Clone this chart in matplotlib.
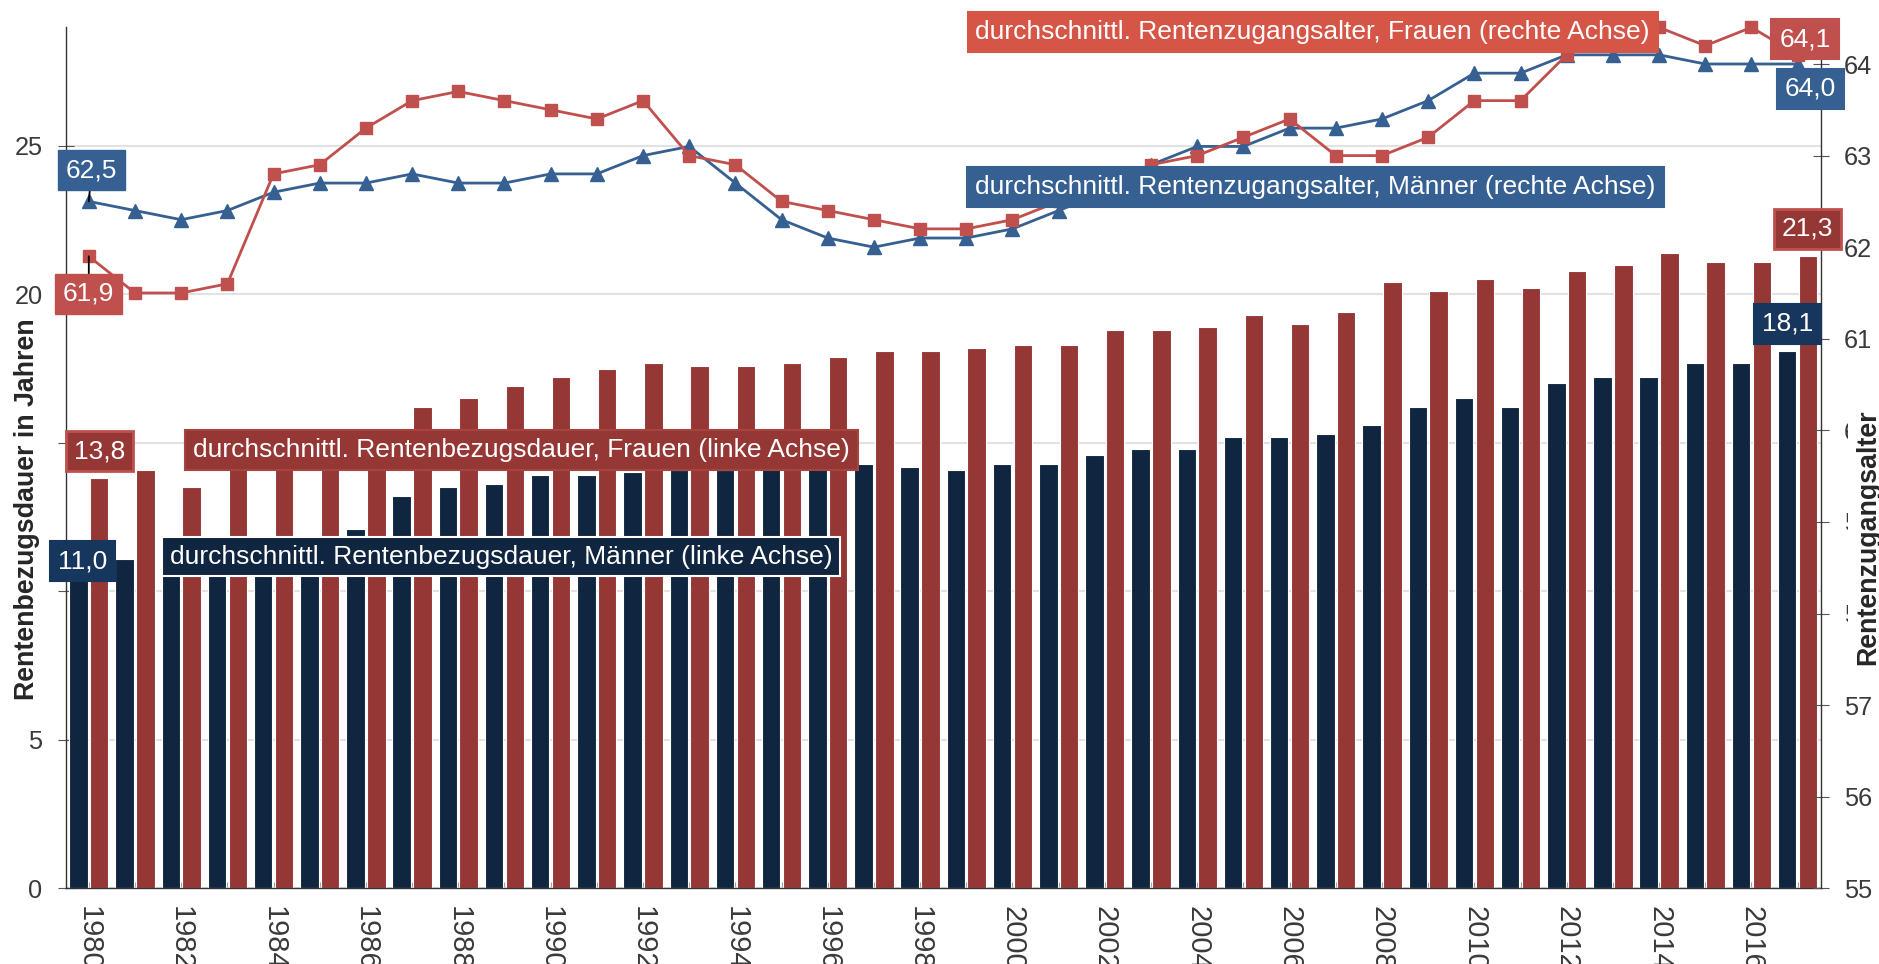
import matplotlib
matplotlib.use('Agg')
import matplotlib.pyplot as plt
import numpy as np

plt.rcParams['font.family'] = ['Liberation Sans', 'DejaVu Sans']

# data
years = list(range(1980, 2018))

# durchschnittl. Rentenbezugsdauer in Jahren (linke Achse)
dauer_maenner = [11.0, 11.1, 11.2, 11.3, 11.5, 11.7, 12.1, 13.2, 13.5, 13.6,
                 13.9, 13.9, 14.0, 14.1, 14.1, 14.2, 14.2, 14.3, 14.2, 14.1,
                 14.3, 14.3, 14.6, 14.8, 14.8, 15.2, 15.2, 15.3, 15.6, 16.2,
                 16.5, 16.2, 17.0, 17.2, 17.2, 17.7, 17.7, 18.1]
dauer_frauen = [13.8, 14.1, 13.5, 14.3, 14.6, 15.0, 15.3, 16.2, 16.5, 16.9,
                17.2, 17.5, 17.7, 17.6, 17.6, 17.7, 17.9, 18.1, 18.1, 18.2,
                18.3, 18.3, 18.8, 18.8, 18.9, 19.3, 19.0, 19.4, 20.4, 20.1,
                20.5, 20.2, 20.8, 21.0, 21.4, 21.1, 21.1, 21.3]

# durchschnittl. Rentenzugangsalter (rechte Achse)
alter_maenner = [62.5, 62.4, 62.3, 62.4, 62.6, 62.7, 62.7, 62.8, 62.7, 62.7,
                 62.8, 62.8, 63.0, 63.1, 62.7, 62.3, 62.1, 62.0, 62.1, 62.1,
                 62.2, 62.4, 62.6, 62.9, 63.1, 63.1, 63.3, 63.3, 63.4, 63.6,
                 63.9, 63.9, 64.1, 64.1, 64.1, 64.0, 64.0, 64.0]
alter_frauen = [61.9, 61.5, 61.5, 61.6, 62.8, 62.9, 63.3, 63.6, 63.7, 63.6,
                63.5, 63.4, 63.6, 63.0, 62.9, 62.5, 62.4, 62.3, 62.2, 62.2,
                62.3, 62.5, 62.7, 62.9, 63.0, 63.2, 63.4, 63.0, 63.0, 63.2,
                63.6, 63.6, 64.1, 64.3, 64.4, 64.2, 64.4, 64.1]

left_ticks = [0, 5, 10, 15, 20, 25]
right_ticks = list(range(55, 65))

NAVY = '#10253f'
NAVY_LABEL = '#17365d'
DARKRED = '#953735'
BLUE = '#366092'
RED = '#c0504d'
RED_LABEL = '#d55647'
TXT = '#3a3a3a'


def fmt(v):
    return ('%.1f' % v).replace('.', ',')


fig = plt.figure(figsize=(18.79, 9.64), dpi=100)
fig.patch.set_facecolor('white')
ax = fig.add_axes([0.03497, 0.07853, 0.93402, 0.89346])

x = np.arange(len(years))
ax.bar(x - 0.225, dauer_maenner, width=0.4, color=NAVY, edgecolor='white', linewidth=0.8)
ax.bar(x + 0.225, dauer_frauen, width=0.4, color=DARKRED, edgecolor='white', linewidth=0.8)
ax.set_xlim(-0.5, len(years) - 0.5)
ax.set_ylim(0, 29)
ax.set_yticks(left_ticks)
ax.grid(axis='y', color='#e2e2e2', lw=1.5)
ax.set_axisbelow(True)
ax.set_xticks(x)
ax.set_xticklabels([str(y) if y % 2 == 0 else '' for y in years], rotation=270,
                   fontsize=21, color=TXT, va='top', ha='center')
ax.tick_params(axis='x', direction='in', length=4, color='#999999', pad=13)
ax.tick_params(axis='y', direction='inout', length=11.5, color='#555555',
               labelsize=18.3, labelcolor=TXT, pad=11)
for s in ['top', 'right']:
    ax.spines[s].set_visible(False)
for s in ['left', 'bottom']:
    ax.spines[s].set_color('#333333')
    ax.spines[s].set_linewidth(1)

ax.set_ylabel('Rentenbezugsdauer in Jahren', fontsize=19.3, fontweight='bold', color='#262626',
              bbox=dict(boxstyle='square,pad=0.25', fc='white', ec='none'))
ax.yaxis.set_label_coords(-0.0218, 0.4404)
ax.yaxis.label.set_verticalalignment('center')

ax2 = ax.twinx()
ax2.set_ylim(55, 64.404)
ax2.set_yticks(right_ticks)
ax2.tick_params(axis='y', direction='inout', length=11.5, color='#555555',
                labelsize=18.3, labelcolor=TXT, pad=11)
for s in ['top', 'left', 'bottom']:
    ax2.spines[s].set_visible(False)
ax2.spines['right'].set_color('#333333')
ax2.spines['right'].set_linewidth(1)

ax2.plot(x, alter_maenner, color=BLUE, marker='^', ms=9.5, lw=2, clip_on=False, zorder=3)
ax2.plot(x, alter_frauen, color=RED, marker='s', ms=8.5, lw=2, clip_on=False, zorder=4)

ax2.set_ylabel('Rentenzugangsalter', fontsize=19.3, fontweight='bold', color='#262626',
               bbox=dict(boxstyle='square,pad=0.25', fc='white', ec='none'))
ax2.yaxis.set_label_coords(1.0269, 0.4073)
ax2.yaxis.label.set_verticalalignment('center')


def box(s, xx, yy, fc, ec=None, lw=1.5, trans=None):
    ax2.text(xx, yy, s, ha='center', va='center', color='white', fontsize=19,
             zorder=10, clip_on=False, transform=trans or ax2.transData,
             bbox=dict(boxstyle='square,pad=0.3', fc=fc, ec=ec or fc, lw=lw))


# series labels
box('durchschnittl. Rentenzugangsalter, Frauen (rechte Achse)', 26.5, 64.35, RED_LABEL)
box('durchschnittl. Rentenzugangsalter, Männer (rechte Achse)', 26.56, 62.66, BLUE)
box('durchschnittl. Rentenbezugsdauer, Frauen (linke Achse)', 9.37, 14.77, DARKRED,
    ec='#a84440', trans=ax.transData)
box('durchschnittl. Rentenbezugsdauer, Männer (linke Achse)', 8.93, 11.17, NAVY,
    ec='white', trans=ax.transData)

# value labels
lead = dict(arrowstyle='-', color='black', lw=1.3, shrinkA=0, shrinkB=0)
for txt, xy, xyt, fc in [(fmt(alter_maenner[0]), (0, alter_maenner[0]), (0.06, 62.84), BLUE),
                         (fmt(alter_frauen[0]), (0, alter_frauen[0]), (0.0, 61.49), RED)]:
    ax2.annotate(txt, xy=xy, xytext=xyt, ha='center', va='center', color='white',
                 fontsize=19, zorder=10, annotation_clip=False, arrowprops=lead,
                 bbox=dict(boxstyle='square,pad=0.3', fc=fc, ec=fc))

box(fmt(alter_frauen[-1]), 37.16, 64.27, RED)
box(fmt(alter_maenner[-1]), 37.28, 63.73, BLUE)
box(fmt(dauer_frauen[0]), 0.23, 14.72, DARKRED, ec=RED, lw=2, trans=ax.transData)
box(fmt(dauer_maenner[0]), -0.14, 11.01, NAVY_LABEL, trans=ax.transData)
box(fmt(dauer_frauen[-1]), 37.21, 22.21, DARKRED, ec=RED, lw=2, trans=ax.transData)
box(fmt(dauer_maenner[-1]), 36.79, 19.01, NAVY_LABEL, trans=ax.transData)

fig.savefig('out.png', dpi=100, facecolor='white')
